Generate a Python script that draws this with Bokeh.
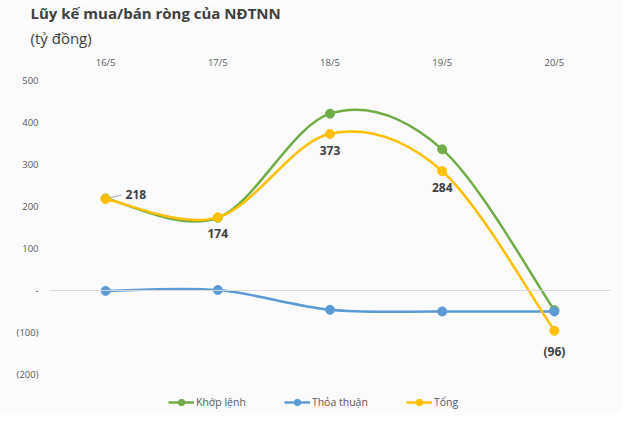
from bokeh.plotting import figure
from bokeh.models import (Legend, LegendItem, Label, Span, FixedTicker, Title,
                          CustomJSTickFormatter, ColumnDataSource, Range1d)
from bokeh.embed import file_html
from bokeh.resources import INLINE

# ---- data ----
dates = ["16/5", "17/5", "18/5", "19/5", "20/5"]
khop_lenh = [219, 173, 421, 336, -47]
thoa_thuan = [-1, 1, -46, -50, -50]
tong = [218, 174, 373, 284, -96]
series_names = ["Khớp lệnh", "Thỏa thuận", "Tổng"]
y_ticks = [-200, -100, 0, 100, 200, 300, 400, 500]

colors = ["#70AD47", "#5B9BD5", "#FFC000"]
FONT = "Open Sans"

xs = [i + 0.5 for i in range(len(dates))]

W, H = 622, 413
# frame extends to the bottom of the canvas so the legend fits inside it
p = figure(width=W, height=H, output_backend="svg", toolbar_location=None,
           x_range=Range1d(0, len(dates)), y_range=Range1d(-293, 500),
           x_axis_location="above", min_border_left=49, min_border_right=12,
           min_border_top=0, min_border_bottom=0)
p.background_fill_color = "#fbfbfb"
p.border_fill_color = "#fbfbfb"
p.outline_line_color = None
p.grid.visible = False

# zero line
p.add_layout(Span(location=0, dimension="width", line_color="#d9d9d9", line_width=1))


def bezier_source(x, y):
    n = len(x)
    d = dict(x0=[], y0=[], x1=[], y1=[], cx0=[], cy0=[], cx1=[], cy1=[])
    for i in range(n - 1):
        im = max(i - 1, 0)
        ip2 = min(i + 2, n - 1)
        d["x0"].append(x[i]); d["y0"].append(y[i])
        d["x1"].append(x[i + 1]); d["y1"].append(y[i + 1])
        d["cx0"].append(x[i] + (x[i + 1] - x[im]) / 6)
        d["cy0"].append(y[i] + (y[i + 1] - y[im]) / 6)
        d["cx1"].append(x[i + 1] - (x[ip2] - x[i]) / 6)
        d["cy1"].append(y[i + 1] - (y[ip2] - y[i]) / 6)
    return ColumnDataSource(d)


items = []
for name, vals, col in zip(series_names, [khop_lenh, thoa_thuan, tong], colors):
    b = p.bezier(x0="x0", y0="y0", x1="x1", y1="y1", cx0="cx0", cy0="cy0",
                 cx1="cx1", cy1="cy1", source=bezier_source(xs, vals),
                 line_color=col, line_width=2.5)
    s = p.scatter(xs, vals, size=9, fill_color=col, line_color=col)
    items.append(LegendItem(label=name, renderers=[b, s]))

# data labels for Tổng
def fmt(v):
    return f"({abs(v)})" if v < 0 else f"{v}"

for i, (x, v) in enumerate(zip(xs, tong)):
    if i == 0:
        lab = Label(x=x, y=v, text=fmt(v), x_offset=20, y_offset=4,
                    text_align="left", text_baseline="middle")
    else:
        lab = Label(x=x, y=v, text=fmt(v), y_offset=-12,
                    text_align="center", text_baseline="top")
    lab.text_font = FONT
    lab.text_font_size = "12px"
    lab.text_font_style = "bold"
    lab.text_color = "#404040"
    p.add_layout(lab)

# leader line for first label
p.segment(x0=[xs[0] + 0.04], y0=[tong[0] + 3], x1=[xs[0] + 0.14], y1=[tong[0] + 9],
          line_color="#a6a6a6", line_width=1)

# axes
xa = p.xaxis[0]
xa.ticker = FixedTicker(ticks=xs)
xa.major_label_overrides = {x: d for x, d in zip(xs, dates)}
xa.axis_line_color = None
xa.major_tick_line_color = None
xa.minor_tick_line_color = None
xa.major_label_text_font = FONT
xa.major_label_text_font_size = "9.5px"
xa.major_label_text_color = "#595959"
xa.major_label_standoff = 6

ya = p.yaxis[0]
ya.ticker = FixedTicker(ticks=y_ticks)
ya.formatter = CustomJSTickFormatter(code="""
    if (tick == 0) return '-';
    if (tick < 0) return '(' + Math.abs(tick) + ')';
    return '' + tick;
""")
ya.axis_line_color = None
ya.major_tick_line_color = None
ya.minor_tick_line_color = None
ya.major_label_text_font = FONT
ya.major_label_text_font_size = "9.5px"
ya.major_label_text_color = "#595959"
ya.major_label_standoff = 5

legend = Legend(items=items, orientation="horizontal", location=(119, 3),
                label_text_font=FONT, label_text_font_size="10.5px",
                label_text_color="#595959", glyph_width=26, glyph_height=16,
                label_height=16, spacing=38, label_standoff=2,
                background_fill_alpha=0, border_line_color=None,
                padding=0, margin=0)
p.add_layout(legend)

# titles
t2 = Title(text="(tỷ đồng)", text_font=FONT, text_font_size="15px",
           text_font_style="normal", text_color="#404040", align="left",
           offset=-19, standoff=8, vertical_align="middle")
t1 = Title(text="Lũy kế mua/bán ròng của NĐTNN", text_font=FONT,
           text_font_size="15px", text_font_style="bold", text_color="#404040",
           align="left", offset=-19, standoff=0)
p.add_layout(t2, "above")
p.add_layout(t1, "above")

open("out.html", "w").write(file_html(p, INLINE))
